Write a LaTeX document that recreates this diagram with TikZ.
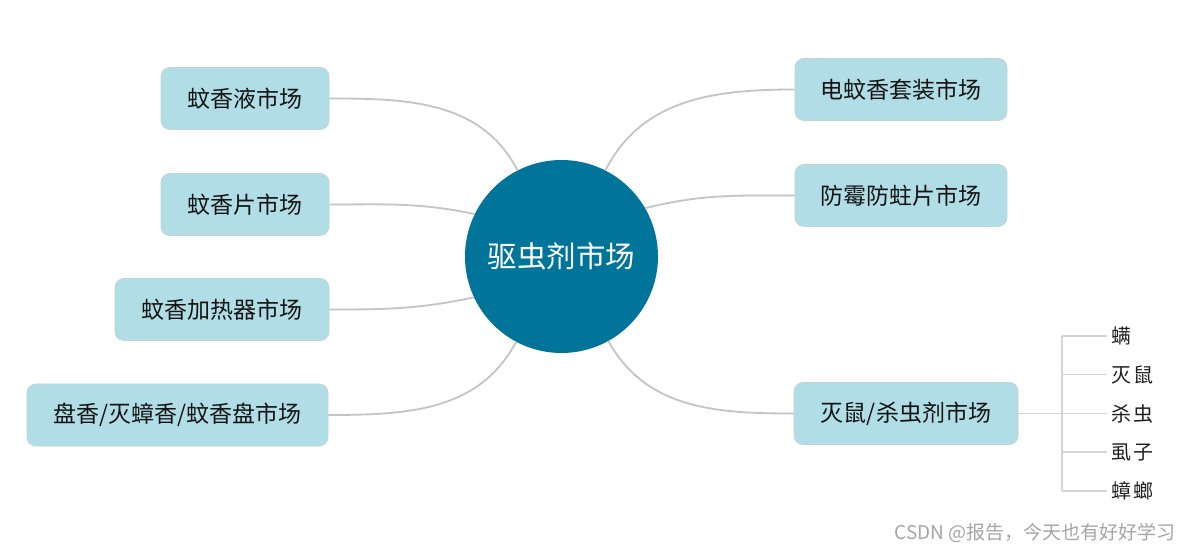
\documentclass[tikz,border=0pt]{standalone}
\usepackage{fontspec}
\setmainfont{Noto Sans CJK SC}
\definecolor{hub}{RGB}{0,117,153}
\definecolor{boxfill}{RGB}{177,222,230}
\definecolor{boxline}{RGB}{196,210,214}
\definecolor{link}{RGB}{196,196,196}
\definecolor{sublink}{RGB}{212,212,212}
\definecolor{wm}{RGB}{165,165,165}
\begin{document}
\begin{tikzpicture}[x=1pt,y=1pt,
  topic/.style={draw=boxline, line width=0.8pt, fill=boxfill, rounded corners=9pt,
    minimum height=62pt, inner sep=0pt, font=\fontsize{23}{23}\selectfont, text=black!92},
  link/.style={draw=link, line width=1.8pt},
  sublink/.style={draw=sublink, line width=1.1pt},
  leaf/.style={anchor=west, inner sep=0pt, font=\fontsize{20}{20}\selectfont, text=black!88}]
\useasboundingbox[fill=white] (0,0) rectangle (1192,-553);

\node[circle, fill=hub, minimum size=193pt, inner sep=0pt, text=white,
  font=\fontsize{29.5}{29.5}\selectfont] (c) at (561.5,-256.5) {驱虫剂市场};

\node[topic, minimum width=168pt] (l1) at (245,-98.5) {蚊香液市场};
\node[topic, minimum width=168pt] (l2) at (245,-204.5) {蚊香片市场};
\node[topic, minimum width=214pt] (l3) at (222,-309.5) {蚊香加热器市场};
\node[topic, minimum width=301pt] (l4) at (177.5,-415) {盘香/灭蟑香/蚊香盘市场};

\node[topic, minimum width=212pt] (r1) at (901,-89.5) {电蚊香套装市场};
\node[topic, minimum width=212pt] (r2) at (901,-195.5) {防霉防蛀片市场};
\node[topic, minimum width=224pt] (r3) at (906,-413.5) {灭鼠/杀虫剂市场};

\draw[link] (c.117.6) to[out=117.6, in=0] (l1.east);
\draw[link] (c.154.2) to[out=168, in=0] (l2.east);
\draw[link] (c.205) to[out=192, in=0] (l3.east);
\draw[link] (c.242) to[out=242, in=0] (l4.east);
\draw[link] (c.63) to[out=63, in=180] (r1.west);
\draw[link] (c.30) to[out=14, in=180] (r2.west);
\draw[link] (c.299) to[out=299, in=180] (r3.west);

\coordinate (j) at (1062,-413.5);
\coordinate (jt) at (1062,-336);
\coordinate (jb) at (1062,-491);
\node[leaf] (s1) at (1111,-336) {螨};
\node[leaf] (s2) at (1111,-374.5) {灭\hspace{2pt}鼠};
\node[leaf] (s3) at (1111,-413.5) {杀\hspace{2pt}虫};
\node[leaf] (s4) at (1111,-452) {虱\hspace{2pt}子};
\node[leaf] (s5) at (1111,-491) {蟑\hspace{2pt}螂};
\draw[sublink] (r3.east) -- (j);
\draw[sublink] (jt) -- (jb);
\foreach \s in {s1,s2,s3,s4,s5}
  \draw[sublink] (\s.west -| j) -- ([xshift=-4pt]\s.west);

\node[anchor=east, inner sep=0pt, text=wm, font=\fontsize{19}{19}\selectfont] (w) at (1176,-533) {CSDN @报告，今天也有好好学习};
\end{tikzpicture}
\end{document}
